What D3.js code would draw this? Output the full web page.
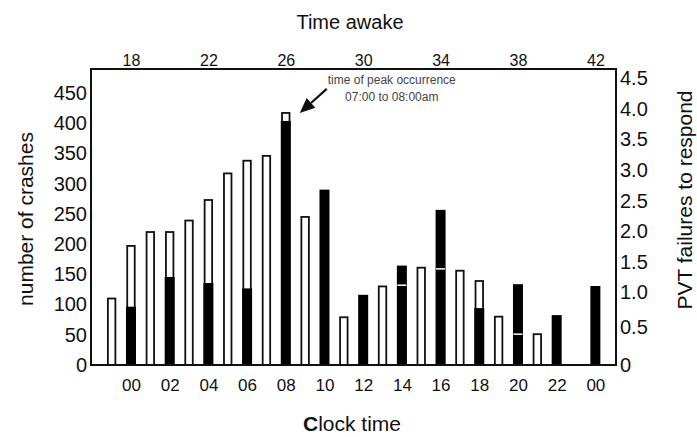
<!DOCTYPE html>
<html>
<head>
<meta charset="utf-8">
<script src="https://cdn.jsdelivr.net/npm/d3@7"></script>
<style>
  html, body { margin: 0; padding: 0; background: #fff; }
  svg { display: block; font-family: "Liberation Sans", Arial, sans-serif; }
</style>
</head>
<body>
<svg id="chart" width="697" height="437"></svg>
<script>
// ---- data ----
const slotHours = ["23","00","01","02","03","04","05","06","07","08","09","10","11","12",
                   "13","14","15","16","17","18","19","20","21","22","23","00"];
const crashes = [110,197,220,220,239,273,317,338,346,417,245,null,79,null,
                 130,132,161,159,156,139,80,51,51,null,null,null];
const pvtClock = ["00","02","04","06","08","10","12","14","16","18","20","22","00"];
const pvtValues = [0.79,1.25,1.15,1.06,3.80,2.68,0.96,1.44,2.35,0.77,1.13,0.67,1.10];
const crashTicks = [0,50,100,150,200,250,300,350,400,450];
const pvtTicks = [0,0.5,1.0,1.5,2.0,2.5,3.0,3.5,4.0,4.5];
const awakeTicks = [18,22,26,30,34,38,42];
const peakNote = ["time of peak occurrence", "07:00 to 08:00am"];

// ---- layout ----
const svg = d3.select("#chart");
const L = 91, R = 616, T = 69, B = 365;

const slots = d3.range(slotHours.length);
const x = d3.scalePoint().domain(slots).range([L, R]).padding(1.066);
const yL = d3.scaleLinear().domain([0, 450]).range([B, 93]);
const yR = d3.scaleLinear().domain([0, 0.5, 1.0, 1.5, 4.5]).range([B, 327, 292, 262, 78]);
const pvtSlot = pvtClock.map((h, j) => 1 + 2 * j);
const awake = d3.scaleLinear().domain([18, 42]).range([x(1), x(25)]);

const whiteW = 7.5, blackW = 10;

// crash bars (white)
svg.append("g").selectAll("rect")
  .data(slots.filter(i => crashes[i] != null))
  .join("rect")
  .attr("x", i => x(i) - whiteW / 2)
  .attr("y", i => yL(crashes[i]))
  .attr("width", whiteW)
  .attr("height", i => B - yL(crashes[i]))
  .attr("fill", "#fff")
  .attr("stroke", "#111")
  .attr("stroke-width", 1.8);

// PVT bars (black)
svg.append("g").selectAll("rect")
  .data(pvtValues.map((v, j) => ({ v, s: pvtSlot[j] })))
  .join("rect")
  .attr("x", d => x(d.s) - blackW / 2)
  .attr("y", d => yR(d.v))
  .attr("width", blackW)
  .attr("height", d => B - yR(d.v))
  .attr("fill", "#000");

// white marker where the crash count lies inside a black bar
svg.append("g").selectAll("line")
  .data(pvtValues.map((v, j) => ({ v, s: pvtSlot[j], c: crashes[pvtSlot[j]] }))
    .filter(d => d.c != null && yL(d.c) > yR(d.v) + 1))
  .join("line")
  .attr("x1", d => x(d.s) - blackW / 2 + 0.5)
  .attr("x2", d => x(d.s) + blackW / 2 - 0.5)
  .attr("y1", d => yL(d.c))
  .attr("y2", d => yL(d.c))
  .attr("stroke", "#fff")
  .attr("stroke-width", 1.5);

// frame
svg.append("rect")
  .attr("x", L).attr("y", T).attr("width", R - L).attr("height", B - T)
  .attr("fill", "none").attr("stroke", "#111").attr("stroke-width", 2);

// axes
function styleAxis(g, size) {
  g.select(".domain").remove();
  g.selectAll("text").attr("font-size", size).attr("fill", "#111")
    .attr("font-family", "'Liberation Sans', Arial, sans-serif");
}
svg.append("g").attr("transform", `translate(${L},0)`)
  .call(d3.axisLeft(yL).tickValues(crashTicks).tickSize(0).tickPadding(4))
  .call(g => styleAxis(g, 20));
svg.append("g").attr("transform", `translate(${R},0)`)
  .call(d3.axisRight(yR).tickValues(pvtTicks).tickSize(0).tickPadding(4)
    .tickFormat(d => d === 0 ? "0" : d3.format(".1f")(d)))
  .call(g => styleAxis(g, 20));
svg.append("g").attr("transform", `translate(0,${B})`)
  .call(d3.axisBottom(x).tickValues(pvtSlot).tickSize(0).tickPadding(14)
    .tickFormat(i => slotHours[i]))
  .call(g => styleAxis(g, 17));
svg.append("g").attr("transform", `translate(0,${T})`)
  .call(d3.axisTop(awake).tickValues(awakeTicks).tickSize(0).tickPadding(3))
  .call(g => styleAxis(g, 16));

// titles
svg.append("text").attr("x", 350).attr("y", 29).attr("text-anchor", "middle")
  .attr("font-size", 20).attr("fill", "#111").text("Time awake");
const ct = svg.append("text").attr("x", 352).attr("y", 431).attr("text-anchor", "middle")
  .attr("font-size", 21).attr("fill", "#111");
ct.append("tspan").attr("font-weight", "bold").text("C");
ct.append("tspan").text("lock time");
svg.append("text").attr("transform", "translate(33,219) rotate(-90)")
  .attr("text-anchor", "middle").attr("font-size", 21).attr("fill", "#111")
  .text("number of crashes");
svg.append("text").attr("transform", "translate(692,200) rotate(-90)")
  .attr("text-anchor", "middle").attr("font-size", 21).attr("fill", "#111")
  .text("PVT failures to respond");

// annotation with arrow pointing at the peak crash bar
const peakSlot = 9;
const tip = [x(peakSlot) + 14, yL(crashes[peakSlot])];
const tail = [tip[0] + 27, tip[1] - 24];
const ang = Math.atan2(tail[1] - tip[1], tail[0] - tip[0]);
const hl = 15, hw = 6.5;
const base = [tip[0] + hl * Math.cos(ang), tip[1] + hl * Math.sin(ang)];
const px = -Math.sin(ang), py = Math.cos(ang);
svg.append("line")
  .attr("x1", base[0]).attr("y1", base[1]).attr("x2", tail[0]).attr("y2", tail[1])
  .attr("stroke", "#111").attr("stroke-width", 2.2);
svg.append("path")
  .attr("d", `M${tip[0]},${tip[1]}L${base[0] + hw * px},${base[1] + hw * py}L${base[0] - hw * px},${base[1] - hw * py}Z`)
  .attr("fill", "#111");
svg.append("g").selectAll("text").data(peakNote).join("text")
  .attr("x", tip[0] + 92)
  .attr("y", (d, i) => tip[1] - 29 + i * 17)
  .attr("text-anchor", "middle").attr("font-size", 12).attr("fill", "#444")
  .text(d => d);
</script>
</body>
</html>
